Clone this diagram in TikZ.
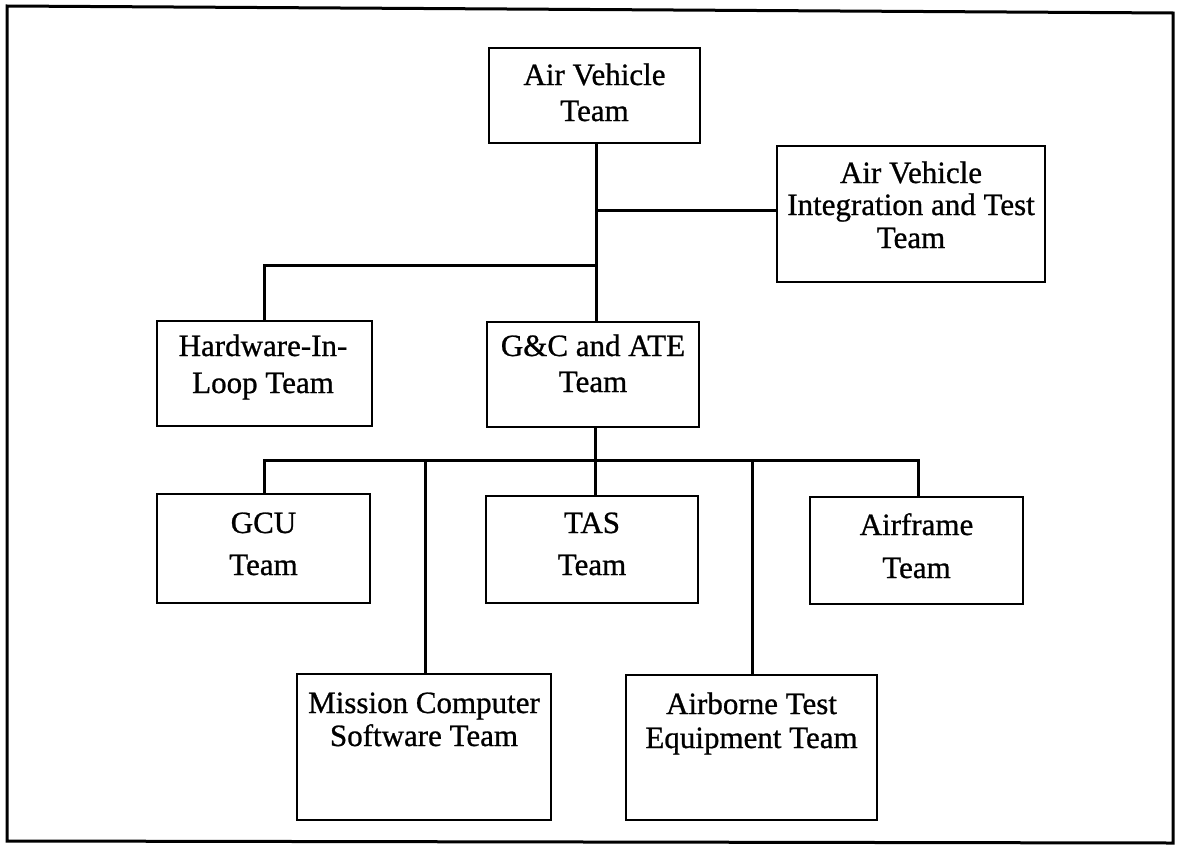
\documentclass[tikz,border=0pt]{standalone}
\usepackage{fontspec}
\setmainfont{Liberation Serif}
\newfontfamily\scanfont{Liberation Serif}[FakeBold=0.8]
\begin{document}
\begin{tikzpicture}[x=1pt,y=-1pt,
  box/.style={draw, line width=2.9pt, inner sep=0pt},
  ln/.style={line width=3pt},
  txt/.style={anchor=base, inner sep=0pt, font=\scanfont\fontsize{31}{36}\selectfont}]
\useasboundingbox (0,0) rectangle (1177,851);
% frame
\draw[line width=3pt] (7,6) -- (1173,13) -- (1173,843) -- (7,841) -- cycle;
% boxes
\node[box, minimum width=211pt, minimum height=95pt]  (av)   at (594.5,95.5) {};
\node[box, minimum width=268pt, minimum height=136pt] (avit) at (911,214) {};
\node[box, minimum width=215pt, minimum height=105pt] (hil)  at (264.5,373.5) {};
\node[box, minimum width=212pt, minimum height=105pt] (gca)  at (593,374.5) {};
\node[box, minimum width=213pt, minimum height=109pt] (gcu)  at (263.5,548.5) {};
\node[box, minimum width=212pt, minimum height=107pt] (tas)  at (592,549.5) {};
\node[box, minimum width=213pt, minimum height=107pt] (af)   at (916.5,550.5) {};
\node[box, minimum width=254pt, minimum height=146pt] (mcs)  at (424,747) {};
\node[box, minimum width=251pt, minimum height=145pt] (ate)  at (751.5,747.5) {};
% texts
\node[txt] (avt1) at (594.5,85) {Air Vehicle};
\node[txt] (avt2) at (594.5,121) {Team};
\node[txt] (avit1) at (911,183) {Air Vehicle};
\node[txt] (avit2) at (911,215) {Integration and Test};
\node[txt] (avit3) at (911,248) {Team};
\node[txt] (hil1) at (263,356) {Hardware-In-};
\node[txt] (hil2) at (263,393) {Loop Team};
\node[txt] (gca1) at (593,356) {G\&C and ATE};
\node[txt] (gca2) at (593,392) {Team};
\node[txt] (gcu1) at (263.5,533) {GCU};
\node[txt] (gcu2) at (263.5,575) {Team};
\node[txt] (tas1) at (592,533) {TAS};
\node[txt] (tas2) at (592,575) {Team};
\node[txt] (af1) at (916.5,535) {Airframe};
\node[txt] (af2) at (916.5,578) {Team};
\node[txt] (mcs1) at (424,713) {Mission Computer};
\node[txt] (mcs2) at (424,746) {Software Team};
\node[txt] (ate1) at (751.5,714) {Airborne Test};
\node[txt] (ate2) at (751.5,748) {Equipment Team};
% junctions
\coordinate (m1) at (596,210);
\coordinate (m2) at (596,265);
\coordinate (h1) at (264,265);
\coordinate (b0) at (595,460);
\coordinate (b1) at (264,460);
\coordinate (b2) at (425,460);
\coordinate (b4) at (752,460);
\coordinate (b5) at (918,460);
% connectors
\draw[ln] (av.south -| m1) -- (gca.north -| m1);
\draw[ln] (m1) -- (avit.west |- m1);
\draw[ln, line join=miter] (m2) -- (h1) -- (hil.north -| h1);
\draw[ln] (gca.south -| b0) -- (b0);
\draw[ln, line join=miter] (gcu.north -| b1) -- (b1) -- (b5) -- (af.north -| b5);
\draw[ln] (b2) -- (mcs.north -| b2);
\draw[ln] (b0) -- (tas.north -| b0);
\draw[ln] (b4) -- (ate.north -| b4);
\end{tikzpicture}
\end{document}
